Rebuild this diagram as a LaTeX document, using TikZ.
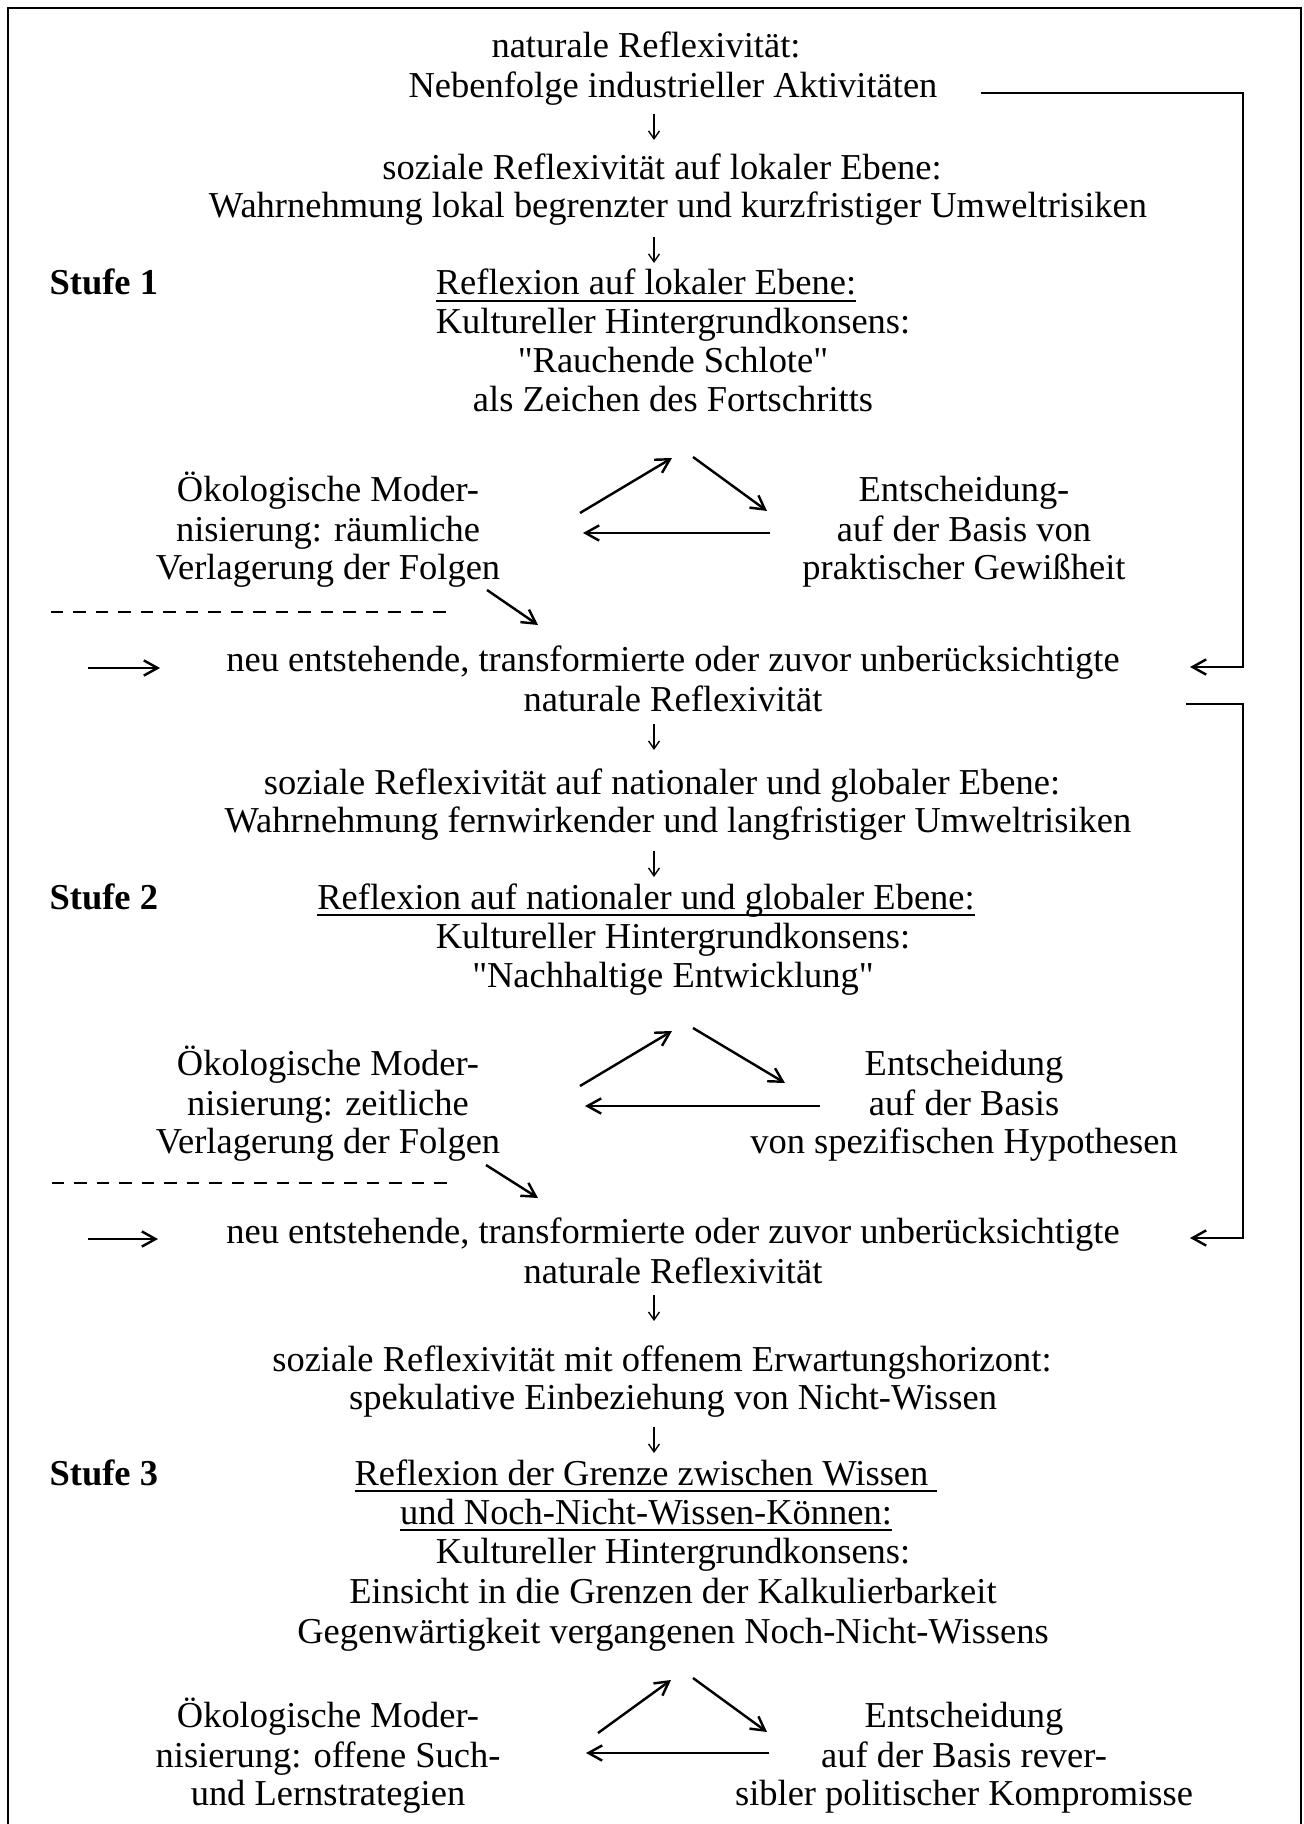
\documentclass[tikz,border=0pt]{standalone}
\usepackage{fontspec}
\setmainfont{Liberation Serif}[Ligatures={TeXOff,NoCommon}]
\usetikzlibrary{arrows.meta}
\newcommand\myul[1]{\setbox0\hbox{#1}\rlap{\rule[-2.3pt]{\wd0}{0.65pt}}\box0}
\tikzset{
  txt/.style={anchor=base, inner sep=0pt, font=\fontsize{12pt}{13.2pt}\selectfont},
  stufe/.style={anchor=base west, inner sep=0pt, font=\fontsize{12pt}{13.2pt}\selectfont\bfseries},
  conn/.style={line width=0.8pt, -{Straight Barb[length=4.5pt,width=5pt,line width=0.8pt]}},
  downarr/.style={line width=0.45pt, -{Straight Barb[length=2.6pt,width=3.6pt,line width=0.45pt]}},
  framel/.style={line width=0.7pt},
  dashline/.style={line width=0.8pt, dash pattern=on 4pt off 3.4pt},
}
\begin{document}
\begin{tikzpicture}[x=0.329pt,y=-0.329pt]
\useasboundingbox (0,0) rectangle (1303,1824);
% frame
\draw[framel] (8,1830) -- (8,8) -- (1301,8) -- (1301,1830);

% ---------- block 1 ----------
\node[txt] (a1) at (646,58) {naturale Reflexivität:};
\node[txt] (a2) at (673,98) {Nebenfolge industrieller Aktivitäten};
\node[txt] (a3) at (662,180) {soziale Reflexivität auf lokaler Ebene:};
\node[txt] (a4) at (678,218) {Wahrnehmung lokal begrenzter und kurzfristiger Umweltrisiken};
\node[stufe] (s1) at (49,295) {Stufe 1};
\node[txt] (a5) at (646,295) {\myul{Reflexion auf lokaler Ebene:}};
\node[txt] (a6) at (673,334) {Kultureller Hintergrundkonsens:};
\node[txt] (a7) at (673,373) {"Rauchende Schlote"};
\node[txt] (a8) at (673,412) {als Zeichen des Fortschritts};
\node[txt] (l1a) at (328,502) {Ökologische Moder-};
\node[txt] (l1b) at (328,542) {nisierung: räumliche};
\node[txt] (l1c) at (328,580) {Verlagerung der Folgen};
\node[txt] (r1a) at (964,502) {Entscheidung-};
\node[txt] (r1b) at (964,542) {auf der Basis von};
\node[txt] (r1c) at (964,580) {praktischer Gewißheit};
\node[txt] (b1) at (673,672) {neu entstehende, transformierte oder zuvor unberücksichtigte};
\node[txt] (b2) at (673,712) {naturale Reflexivität};

\coordinate (v1s) at (654,114); \coordinate (v1e) at (654,140);
\coordinate (v2s) at (654,237); \coordinate (v2e) at (654,263);
\draw[downarr] (v1s) -- (v1e);
\draw[downarr] (v2s) -- (v2e);

\coordinate (u1s) at (580,513); \coordinate (u1e) at (672,458);
\coordinate (d1s) at (693,457); \coordinate (d1e) at (767,511);
\coordinate (h1s) at (770,533); \coordinate (h1e) at (583,533);
\draw[conn] (u1s) -- (u1e);
\draw[conn] (d1s) -- (d1e);
\draw[conn] (h1s) -- (h1e);
\coordinate (g1s) at (487,590); \coordinate (g1e) at (538,625);
\draw[conn] (g1s) -- (g1e);
\coordinate (ds1s) at (51,612); \coordinate (ds1e) at (451,612);
\draw[dashline] (ds1s) -- (ds1e);
\coordinate (e1s) at (88,668); \coordinate (e1e) at (160,668);
\draw[conn] (e1s) -- (e1e);

% bracket 1
\coordinate (k1s) at (981,93); \coordinate (k1e) at (1190,667);
\draw[conn] (k1s) -- ++(262,0) |- (k1e);

% ---------- block 2 ----------
\coordinate (v3s) at (654,724); \coordinate (v3e) at (654,750);
\draw[downarr] (v3s) -- (v3e);
\node[txt] (c1) at (662,794) {soziale Reflexivität auf nationaler und globaler Ebene:};
\node[txt] (c2) at (678,832) {Wahrnehmung fernwirkender und langfristiger Umweltrisiken};
\coordinate (v4s) at (654,851); \coordinate (v4e) at (654,877);
\draw[downarr] (v4s) -- (v4e);
\node[stufe] (s2) at (49,909) {Stufe 2};
\node[txt] (c3) at (646,909) {\myul{Reflexion auf nationaler und globaler Ebene:}};
\node[txt] (c4) at (673,948) {Kultureller Hintergrundkonsens:};
\node[txt] (c5) at (673,987) {"Nachhaltige Entwicklung"};
\node[txt] (l2a) at (328,1075) {Ökologische Moder-};
\node[txt] (l2b) at (328,1115) {nisierung: zeitliche};
\node[txt] (l2c) at (328,1153) {Verlagerung der Folgen};
\node[txt] (r2a) at (964,1075) {Entscheidung};
\node[txt] (r2b) at (964,1115) {auf der Basis};
\node[txt] (r2c) at (964,1153) {von spezifischen Hypothesen};

\coordinate (u2s) at (580,1086); \coordinate (u2e) at (672,1031);
\coordinate (d2s) at (693,1028); \coordinate (d2e) at (785,1083);
\coordinate (h2s) at (820,1106); \coordinate (h2e) at (585,1106);
\draw[conn] (u2s) -- (u2e);
\draw[conn] (d2s) -- (d2e);
\draw[conn] (h2s) -- (h2e);
\coordinate (g2s) at (486,1165); \coordinate (g2e) at (538,1198);
\draw[conn] (g2s) -- (g2e);
\coordinate (ds2s) at (52,1183); \coordinate (ds2e) at (452,1183);
\draw[dashline] (ds2s) -- (ds2e);
\coordinate (e2s) at (88,1239); \coordinate (e2e) at (158,1239);
\draw[conn] (e2s) -- (e2e);

\node[txt] (b3) at (673,1243) {neu entstehende, transformierte oder zuvor unberücksichtigte};
\node[txt] (b4) at (673,1283) {naturale Reflexivität};

% bracket 2
\coordinate (k2s) at (1186,704); \coordinate (k2e) at (1190,1238);
\draw[conn] (k2s) -- ++(57,0) |- (k2e);

% ---------- block 3 ----------
\coordinate (v5s) at (654,1295); \coordinate (v5e) at (654,1321);
\draw[downarr] (v5s) -- (v5e);
\node[txt] (f1) at (662,1371) {soziale Reflexivität mit offenem Erwartungshorizont:};
\node[txt] (f2) at (673,1409) {spekulative Einbeziehung von Nicht-Wissen};
\coordinate (v6s) at (654,1427); \coordinate (v6e) at (654,1453);
\draw[downarr] (v6s) -- (v6e);
\node[stufe] (s3) at (49,1485) {Stufe 3};
\node[txt] (f3) at (646,1485) {\myul{Reflexion der Grenze zwischen Wissen }};
\node[txt] (f4) at (646,1524) {\myul{und Noch-Nicht-Wissen-Können:}};
\node[txt] (f5) at (673,1563) {Kultureller Hintergrundkonsens:};
\node[txt] (f6) at (673,1603) {Einsicht in die Grenzen der Kalkulierbarkeit};
\node[txt] (f7) at (673,1643) {Gegenwärtigkeit vergangenen Noch-Nicht-Wissens};
\node[txt] (l3a) at (328,1727) {Ökologische Moder-};
\node[txt] (l3b) at (328,1767) {nisierung: offene Such-};
\node[txt] (l3c) at (328,1805) {und Lernstrategien};
\node[txt] (r3a) at (964,1727) {Entscheidung};
\node[txt] (r3b) at (964,1767) {auf der Basis rever-};
\node[txt] (r3c) at (964,1805) {sibler politischer Kompromisse};

\coordinate (u3s) at (598,1733); \coordinate (u3e) at (671,1680);
\coordinate (d3s) at (693,1678); \coordinate (d3e) at (767,1732);
\coordinate (h3s) at (769,1753); \coordinate (h3e) at (586,1753);
\draw[conn] (u3s) -- (u3e);
\draw[conn] (d3s) -- (d3e);
\draw[conn] (h3s) -- (h3e);
\end{tikzpicture}
\end{document}
